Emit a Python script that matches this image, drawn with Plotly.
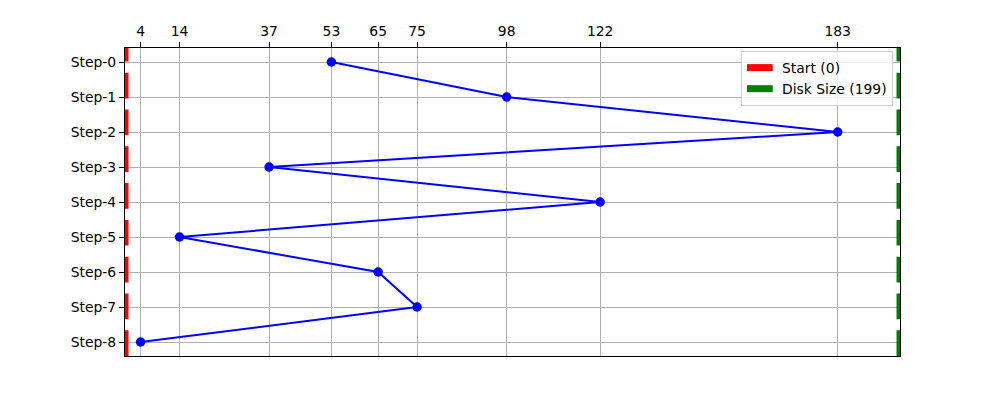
import plotly.graph_objects as go

steps = ["Step-0", "Step-1", "Step-2", "Step-3", "Step-4", "Step-5", "Step-6", "Step-7", "Step-8"]
positions = [53, 98, 183, 37, 122, 14, 65, 75, 4]
start_pos = 0
disk_size = 199

step_idx = list(range(len(steps)))
y_lo, y_hi = -0.4, len(steps) - 1 + 0.4

FONT = "DejaVu Sans, sans-serif"

fig = go.Figure()

fig.add_trace(go.Scatter(
    x=[start_pos, start_pos], y=[y_hi, y_lo], mode="lines",
    line=dict(color="red", width=7, dash="25.7px,11.1px"),
    name=f"Start ({start_pos})", hoverinfo="skip",
))
fig.add_trace(go.Scatter(
    x=[disk_size, disk_size], y=[y_hi, y_lo], mode="lines",
    line=dict(color="green", width=7, dash="25.7px,11.1px"),
    name=f"Disk Size ({disk_size})", hoverinfo="skip",
))
fig.add_trace(go.Scatter(
    x=positions, y=step_idx, mode="lines+markers",
    line=dict(color="blue", width=2),
    marker=dict(color="blue", size=9.5),
    showlegend=False,
))

fig.update_layout(
    width=1000, height=400,
    margin=dict(l=125, r=100, t=48, b=44),
    paper_bgcolor="white", plot_bgcolor="white",
    font=dict(family=FONT, size=13.9, color="black"),
    legend=dict(
        x=0.991, y=0.99, xanchor="right", yanchor="top",
        bgcolor="rgba(255,255,255,0.8)", bordercolor="#d0d0d0", borderwidth=1,
        font=dict(family=FONT, size=13.9), itemwidth=30,
    ),
)

fig.update_xaxes(
    range=[0, disk_size], side="top",
    tickmode="array", tickvals=sorted(set(positions)),
    ticktext=[str(v) for v in sorted(set(positions))],
    ticks="outside", ticklen=5, tickwidth=1, tickcolor="black",
    showgrid=True, gridcolor="#b0b0b0", gridwidth=1,
    showline=True, linecolor="black", linewidth=1, mirror=True,
    zeroline=False,
)
fig.update_yaxes(
    range=[y_hi, y_lo],
    tickmode="array", tickvals=step_idx, ticktext=steps,
    ticks="outside", ticklen=5, tickwidth=1, tickcolor="black",
    showgrid=True, gridcolor="#b0b0b0", gridwidth=1,
    showline=True, linecolor="black", linewidth=1, mirror=True,
    zeroline=False,
)

fig.write_html("out.html")
